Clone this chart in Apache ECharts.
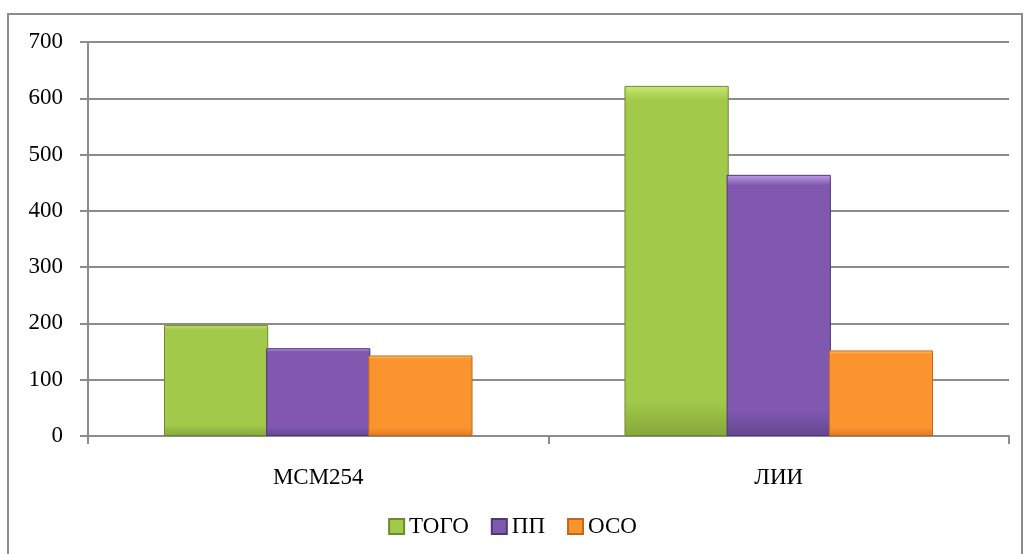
<!DOCTYPE html>
<html>
<head>
<meta charset="utf-8">
<script src="https://cdn.jsdelivr.net/npm/echarts@6/dist/echarts.min.js"></script>
<style>
  html, body { margin: 0; padding: 0; background: #fff; }
  #frame { position: absolute; left: 7px; top: 13px; width: 1012px; height: 560px; border: 2px solid #8c8c8c; }
  #chart { position: absolute; left: 0; top: 0; width: 1025px; height: 554px; }
</style>
</head>
<body>
<div id="frame"></div>
<div id="chart"></div>
<script>
const categories = ["МСМ254", "ЛИИ"];
const togo = [197, 622];
const pp = [156, 464];
const oco = [143, 152];
const yTicks = [0, 100, 200, 300, 400, 500, 600, 700];

const myChart = echarts.init(document.getElementById("chart"));

// bevel-ish gradient for bars
const makeGradient = (light, mid, dark) => ({
  type: "linear", x: 0, y: 0, x2: 0, y2: 1,
  colorStops: [
    { offset: 0, color: light },
    { offset: 0.04, color: mid },
    { offset: 0.9, color: mid },
    { offset: 1, color: dark },
  ],
});

const serif = "Liberation Serif";

const barSeries = (name, data, grad, border) => ({
  name: name,
  type: "bar",
  data: data,
  barGap: "-2%",
  barCategoryGap: "33%",
  itemStyle: { color: grad, borderColor: border, borderWidth: 1 },
});

myChart.setOption({
  animation: false,
  textStyle: { fontFamily: serif },
  grid: { left: 88, right: 16, top: 42, bottom: 118 },
  legend: {
    top: 510,
    left: "center",
    icon: "rect",
    itemWidth: 15,
    itemHeight: 15,
    itemGap: 22,
    textStyle: { fontSize: 23, color: "#000", fontFamily: serif },
    data: ["ТОГО", "ПП", "ОСО"],
  },
  xAxis: {
    type: "category",
    data: categories,
    axisLine: { lineStyle: { color: "#8c8c8c", width: 2 } },
    axisTick: { show: true, length: 8, lineStyle: { color: "#8c8c8c", width: 2 } },
    axisLabel: { fontSize: 23, color: "#000", margin: 30, fontFamily: serif },
  },
  yAxis: {
    type: "value",
    min: yTicks[0],
    max: yTicks[yTicks.length - 1],
    interval: 100,
    axisLine: { show: true, lineStyle: { color: "#8c8c8c", width: 2 } },
    axisTick: { show: true, length: 8, lineStyle: { color: "#8c8c8c", width: 2 } },
    axisLabel: { fontSize: 23, color: "#000", margin: 25, fontFamily: serif },
    splitLine: { lineStyle: { color: "#8c8c8c", width: 2 } },
  },
  series: [
    barSeries("ТОГО", togo, makeGradient("#c8e870", "#a2c94a", "#86a73a"), "#6f8a2e"),
    barSeries("ПП", pp, makeGradient("#bc9ce8", "#8058b0", "#654692"), "#4f3873"),
    barSeries("ОСО", oco, makeGradient("#ffd478", "#fb932e", "#e07a20"), "#c0681a"),
  ],
});

window.addEventListener("resize", () => {
  myChart.resize();
});
</script>
</body>
</html>
